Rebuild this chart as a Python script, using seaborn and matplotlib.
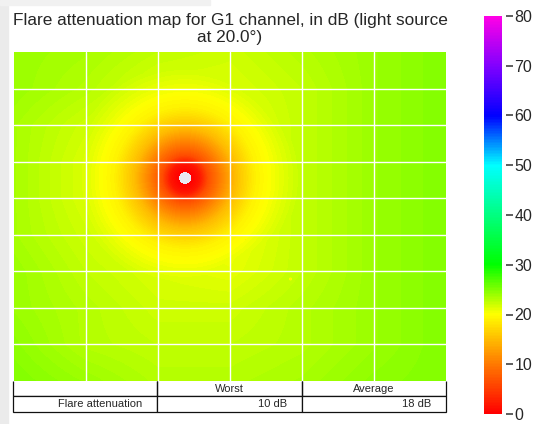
import numpy as np
import matplotlib
matplotlib.use("Agg")
import matplotlib.pyplot as plt
from matplotlib.colors import LinearSegmentedColormap
from matplotlib.patches import Rectangle
import seaborn as sns

TITLE = "Flare attenuation map for G1 channel, in dB (light source\nat 20.0°)"

# Size of the attenuation raster (pixels)
MAP_W, MAP_H = 432, 329

# Far-field attenuation (dB) at the gridline crossings: 7 columns x 10 rows,
# rows from top to bottom, columns from left to right
grid_x = [0.0, 1 / 6, 2 / 6, 3 / 6, 4 / 6, 5 / 6, 1.0]
grid_y = [0.0, 1 / 9, 2 / 9, 3 / 9, 4 / 9, 5 / 9, 6 / 9, 7 / 9, 8 / 9, 1.0]
far_field_db = [
    [24.0, 23.5, 22.5, 22.0, 23.0, 24.0, 25.0],
    [24.0, 23.0, 21.5, 21.5, 22.5, 24.0, 25.0],
    [23.5, 22.0, 20.5, 20.5, 22.5, 24.0, 25.0],
    [23.5, 21.5, 20.0, 20.5, 22.5, 24.0, 25.0],
    [23.5, 21.5, 20.0, 20.5, 22.5, 24.0, 25.0],
    [23.5, 22.0, 20.5, 20.5, 22.5, 24.0, 25.0],
    [24.0, 22.5, 21.5, 21.0, 22.5, 24.0, 25.0],
    [24.0, 23.0, 22.0, 22.0, 23.0, 24.0, 25.0],
    [24.5, 23.0, 22.5, 22.5, 23.0, 24.0, 25.0],
    [25.0, 24.0, 23.0, 23.0, 23.5, 24.5, 25.0],
]

# Light source position (fraction of width / height) and radial falloff
source_x, source_y = 0.396, 0.383
saturated_radius_px = 6
falloff_radius_px = [0, 6, 15, 23, 37, 50, 70, 95, 125, 170]
falloff_db = [0.0, 0.0, 2.0, 6.5, 11.0, 15.0, 19.0, 21.0, 23.0, 40.0]

# Ghost reflections along the diagonal through the image centre
ghost_x = [0.46, 0.535, 0.64]
ghost_y = [0.475, 0.57, 0.69]
ghost_radius_px = [4, 5, 10]
ghost_db = [16.0, 17.0, 18.0]

# Summary table
summary_header = ["", "Worst", "Average"]
summary_label = "Flare attenuation"
worst_db = 10
average_db = 18

# Colour scale
cbar_levels = [0, 10, 20, 30, 40, 50, 60, 70, 80]
cbar_colors = ["#ff0000", "#ff7a00", "#ffff00", "#00ff00", "#00ff80",
               "#00ffff", "#0000ff", "#8000ff", "#ff00e6"]

sns.set_theme(style="darkgrid")
plt.rcParams["font.family"] = ["Liberation Sans", "DejaVu Sans"]

cmap = LinearSegmentedColormap.from_list(
    "flare", [(v / cbar_levels[-1], c) for v, c in zip(cbar_levels, cbar_colors)]
)

# Build the attenuation raster
xs = (np.arange(MAP_W) + 0.5) / MAP_W
ys = (np.arange(MAP_H) + 0.5) / MAP_H
ff = np.asarray(far_field_db)
rows_x = np.array([np.interp(xs, grid_x, row) for row in ff])          # (10, W)
background = np.array([np.interp(ys, grid_y, rows_x[:, j]) for j in range(MAP_W)]).T

X, Y = np.meshgrid(xs, ys)
r = np.hypot((X - source_x) * MAP_W, (Y - source_y) * MAP_H)
field = np.minimum(background, np.interp(r, falloff_radius_px, falloff_db))
for gx, gy, gr, gd in zip(ghost_x, ghost_y, ghost_radius_px, ghost_db):
    rg = np.hypot((X - gx) * MAP_W, (Y - gy) * MAP_H)
    field = np.minimum(field, np.interp(rg, [0, gr], [gd, 40.0]))
field[r < saturated_radius_px] = np.nan

fig = plt.figure(figsize=(5.39, 4.24), dpi=100)
fig.patches.append(Rectangle((0, 0), 8 / 539, 1, transform=fig.transFigure,
                             color="#ebebeb", zorder=-1))
fig.patches.append(Rectangle((0, 1 - 5 / 424), 210 / 539, 5 / 424,
                             transform=fig.transFigure, color="#f1f1f1", zorder=-1))

ax = fig.add_axes([14 / 539, 43 / 424, 432 / 539, 329 / 424])
cax = fig.add_axes([484 / 539, 10 / 424, 18 / 539, 398 / 424])

sns.heatmap(field, ax=ax, cmap=cmap, vmin=0, vmax=80, cbar_ax=cax,
            xticklabels=False, yticklabels=False, rasterized=True)

ax.set_xticks(np.linspace(0, MAP_W, 7)[1:-1])
ax.set_yticks(np.linspace(0, MAP_H, 10)[1:-1])
ax.tick_params(length=0, labelbottom=False, labelleft=False)
ax.grid(True, color="white", linewidth=1.0)
ax.set_axisbelow(False)
ax.set_title(TITLE, fontsize=12.4, color="#262626", pad=7, linespacing=1.2)

# Colour bar ticks, set slightly apart from the bar
cax.set_yticks(cbar_levels)
cax.spines["right"].set_position(("outward", 3))
cax.tick_params(axis="y", right=True, length=5, width=1.1, color="#333333",
                labelsize=11.5, labelcolor="#262626", pad=1)

# Summary table under the map
tbl = ax.table(cellText=[summary_header,
                         [summary_label, f"{worst_db} dB", f"{average_db} dB"]],
               cellLoc="right", bbox=[-0.003, -0.094, 1.003, 0.094])
tbl.auto_set_font_size(False)
tbl.set_fontsize(8)
for (row, col), cell in tbl.get_celld().items():
    cell.set_linewidth(0.9)
    cell.set_edgecolor("#111111")
    cell.set_facecolor("white")
    cell.set_clip_on(False)
    cell.get_text().set_color("#262626")
    if row == 0:
        cell.visible_edges = "BLR"
        cell.get_text().set_horizontalalignment("center")

fig.savefig("out.png", dpi=100)
